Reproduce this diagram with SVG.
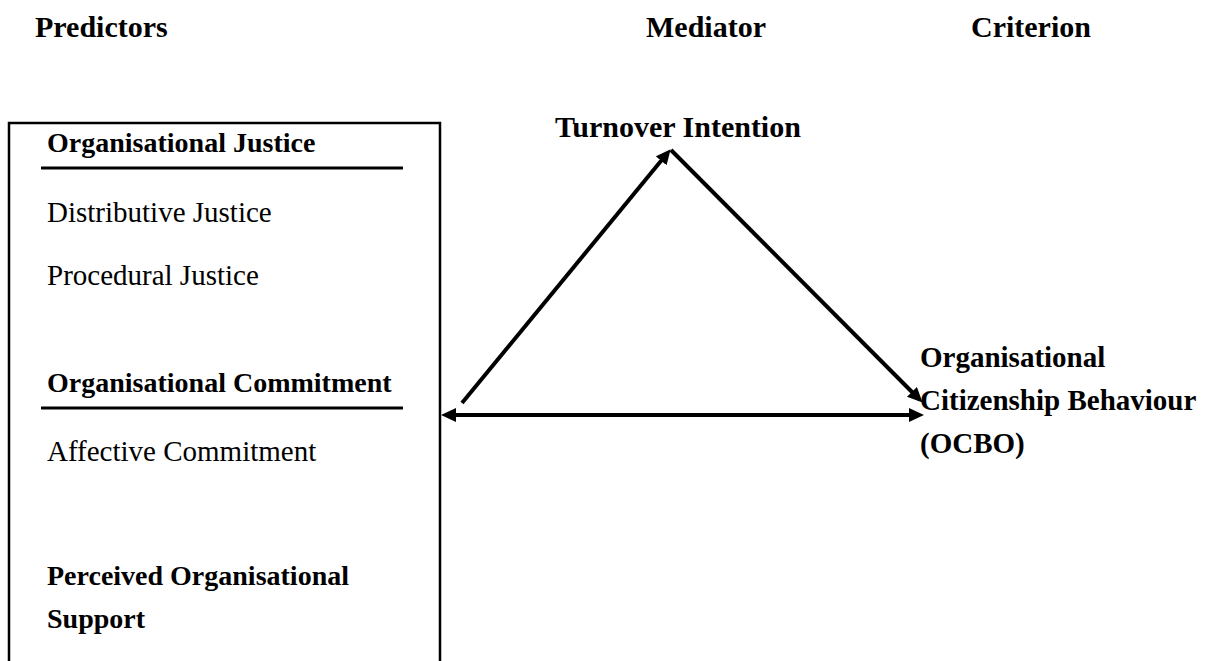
<svg xmlns="http://www.w3.org/2000/svg" width="1217" height="661" viewBox="0 0 1217 661">
  <style>
    text { font-family: "Liberation Serif", "Times New Roman", serif; fill: #000; }
    .b { font-weight: bold; font-size: 28px; }
    .c { font-weight: bold; font-size: 29px; }
    .r { font-size: 29px; }
    .t { font-weight: bold; font-size: 30px; }
    .rule { stroke: #000; stroke-width: 3; }
    .conn { stroke: #000; stroke-width: 4; fill: none; }
  </style>
  <defs>
    <marker id="ah" markerUnits="userSpaceOnUse" markerWidth="16" markerHeight="14" refX="10" refY="7" orient="auto-start-reverse">
      <path d="M0,0 L15,7 L0,14 z" fill="#000"/>
    </marker>
  </defs>
  <rect width="1217" height="661" fill="#fff"/>

  <g id="headings">
    <text class="t" x="35" y="37">Predictors</text>
    <text class="t" x="646" y="37">Mediator</text>
    <text class="t" x="971" y="37">Criterion</text>
  </g>

  <g id="predictors">
    <path d="M9,670 L9,123 L440,123 L440,670" fill="none" stroke="#000" stroke-width="2.5"/>
    <text class="b" x="47" y="152">Organisational Justice</text>
    <line class="rule" x1="41" y1="168" x2="403" y2="168"/>
    <text class="r" x="47" y="222">Distributive Justice</text>
    <text class="r" x="47" y="285">Procedural Justice</text>
    <text class="b" x="47" y="392">Organisational Commitment</text>
    <line class="rule" x1="41" y1="408" x2="403" y2="408"/>
    <text class="r" x="47" y="461">Affective Commitment</text>
    <text class="b" x="47" y="585">Perceived Organisational</text>
    <text class="b" x="47" y="628">Support</text>
  </g>

  <g id="mediator">
    <text class="t" x="555" y="137">Turnover Intention</text>
  </g>

  <g id="criterion">
    <text class="c" x="920" y="367">Organisational</text>
    <text class="c" x="920" y="410">Citizenship Behaviour</text>
    <text class="c" x="920" y="453">(OCBO)</text>
  </g>

  <g id="connectors">
    <line class="conn" x1="462" y1="403" x2="667.5" y2="153.1" marker-end="url(#ah)"/>
    <line class="conn" x1="671" y1="150" x2="919" y2="399" marker-end="url(#ah)"/>
    <line class="conn" x1="446" y1="415" x2="919" y2="415" marker-start="url(#ah)" marker-end="url(#ah)"/>
  </g>
</svg>
